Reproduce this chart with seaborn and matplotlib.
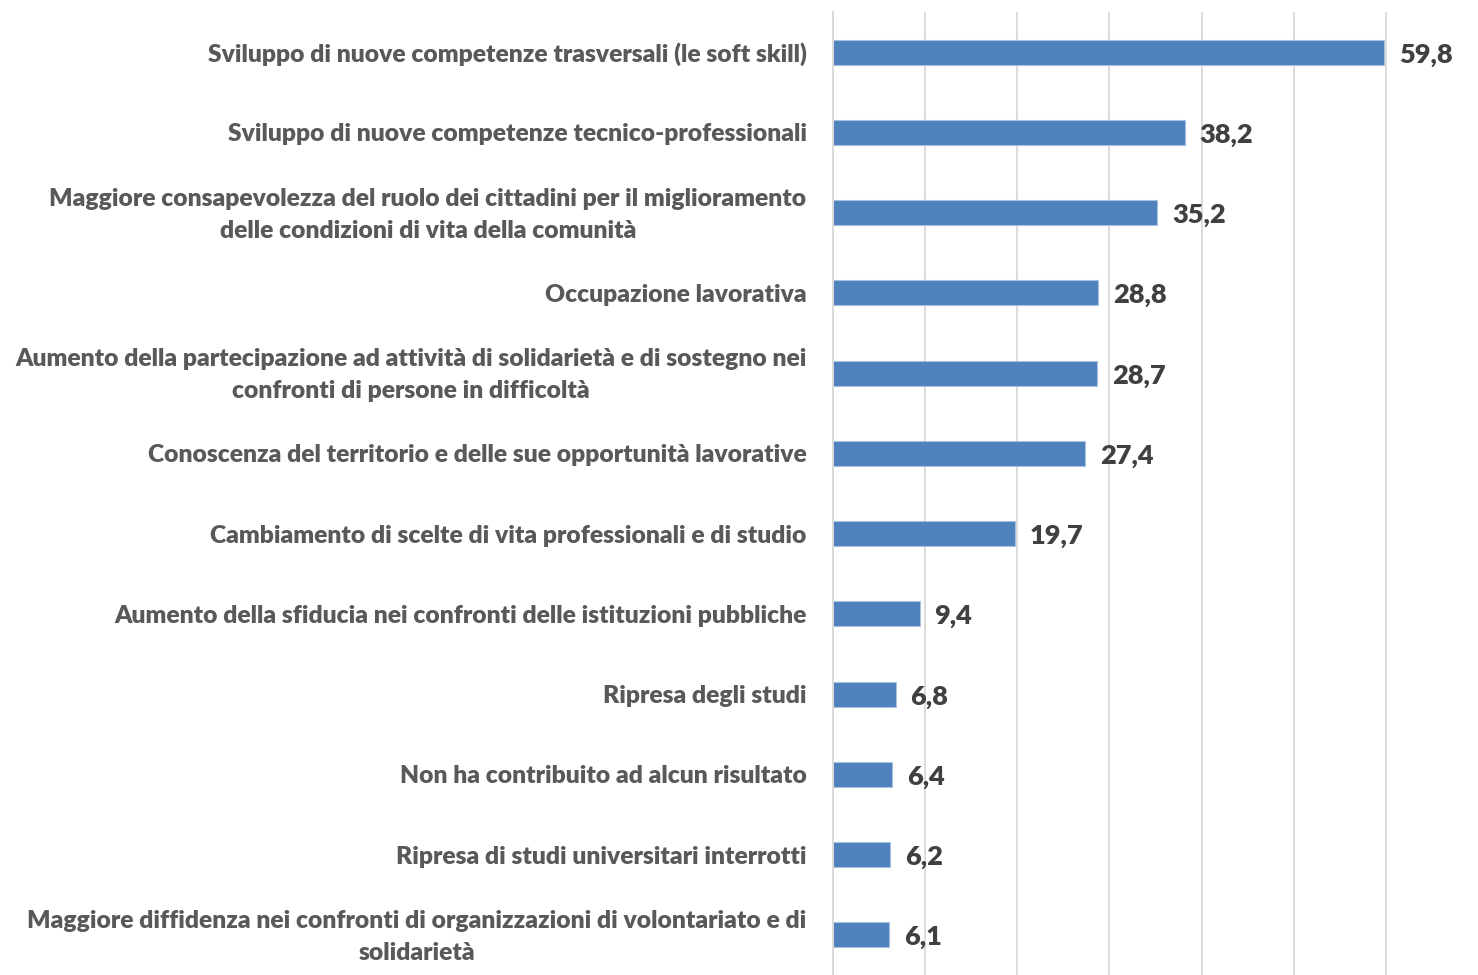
import numpy as np
import pandas as pd
import matplotlib
matplotlib.use("Agg")
import matplotlib.pyplot as plt
import matplotlib.transforms as mtransforms
import seaborn as sns

categories = [
    "Sviluppo di nuove competenze trasversali (le soft skill)",
    "Sviluppo di nuove competenze tecnico-professionali",
    "Maggiore consapevolezza del ruolo dei cittadini per il miglioramento\ndelle condizioni di vita della comunità",
    "Occupazione lavorativa",
    "Aumento della partecipazione ad attività di solidarietà e di sostegno nei\nconfronti di persone in difficoltà",
    "Conoscenza del territorio e delle sue opportunità lavorative",
    "Cambiamento di scelte di vita professionali e di studio",
    "Aumento della sfiducia nei confronti delle istituzioni pubbliche",
    "Ripresa degli studi",
    "Non ha contribuito ad alcun risultato",
    "Ripresa di studi universitari interrotti",
    "Maggiore diffidenza nei confronti di organizzazioni di volontariato e di\nsolidarietà",
]
values = [59.8, 38.2, 35.2, 28.8, 28.7, 27.4, 19.7, 9.4, 6.8, 6.4, 6.2, 6.1]

df = pd.DataFrame({"categoria": categories, "valore": values})

sns.set_style("white")
plt.rcParams['font.family'] = ['Lato', 'DejaVu Sans']

fig = plt.figure(figsize=(14.78, 9.75), dpi=100)
ax = fig.add_axes([833 / 1478, 0.0, 1 - 833 / 1478, 1 - 12 / 975])

sns.barplot(data=df, x="valore", y="categoria", orient="h", color="#4F81BD",
            saturation=1, width=0.31, edgecolor="#A9C1E0", linewidth=0.8, ax=ax)

ax.set_xlim(0, 70)
ax.set_xticks(np.arange(0, 70, 10))
ax.set_xticklabels([])
ax.tick_params(axis="x", length=0)
ax.tick_params(axis="y", length=0, pad=19)
ax.grid(axis="x", color="#D9D9D9", linewidth=1.3)
ax.set_axisbelow(True)
for s in ["top", "right", "bottom"]:
    ax.spines[s].set_visible(False)
ax.spines["left"].set_color("#D9D9D9")
ax.spines["left"].set_linewidth(1.3)
ax.set_xlabel("")
ax.set_ylabel("")

# nudge two-line labels up a little
shift = mtransforms.ScaledTranslation(0, 5 / 100, fig.dpi_scale_trans)
for lbl in ax.get_yticklabels():
    lbl.set_fontsize(17.7)
    lbl.set_fontweight("heavy")
    lbl.set_color("#595959")
    lbl.set_multialignment("center")
    lbl.set_linespacing(1.55)
    if "\n" in lbl.get_text():
        lbl.set_transform(lbl.get_transform() + shift)

for i, v in enumerate(values):
    ax.text(v + 1.6, i + 0.03, f"{v:.1f}".replace(".", ","), va="center", ha="left",
            fontsize=19.5, fontweight="heavy", color="#404040")

fig.savefig("out.png", dpi=100)
